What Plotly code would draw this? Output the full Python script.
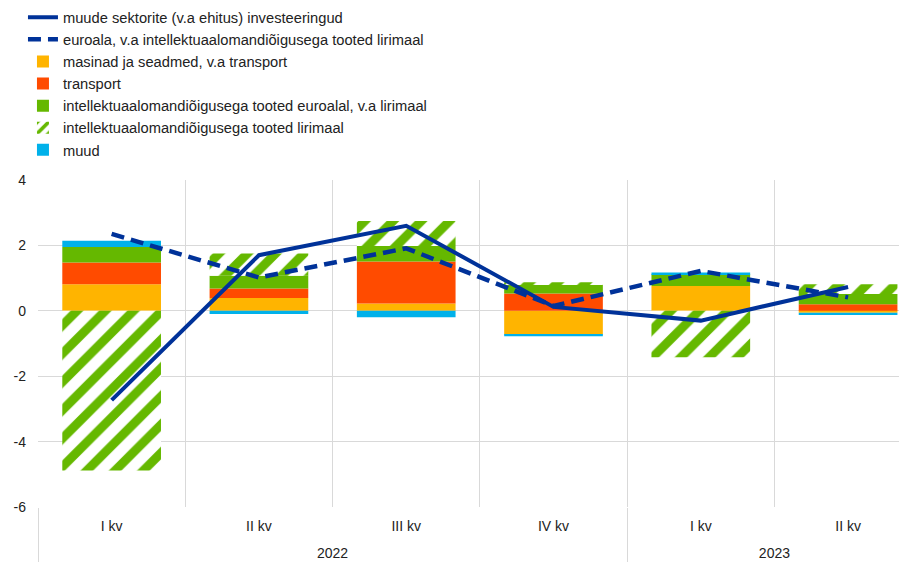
import plotly.graph_objects as go

years = ["2022", "2022", "2022", "2022", "2023", "2023"]
quarters = ["I kv", "II kv", "III kv", "IV kv", "I kv", "II kv"]

other_sectors = [-2.73, 1.70, 2.60, 0.12, -0.30, 0.73]
euro_area_ex_ie = [2.35, 1.02, 1.91, 0.15, 1.22, 0.41]
machinery = [0.81, 0.39, 0.22, -0.73, 0.76, -0.06]
transport = [0.67, 0.29, 1.29, 0.53, 0.0, 0.20]
ipp_euro_ex_ie = [0.47, 0.39, 0.47, 0.28, 0.36, 0.31]
ipp_ireland = [-4.88, 0.68, 0.77, 0.06, -1.42, 0.30]
other = [0.19, -0.10, -0.20, -0.05, 0.05, -0.07]

y_ticks = [-6, -4, -2, 0, 2, 4]
y_tick_labels = ["-6", "-4", "-2", "0", "2", "4"]

names = [
    "muude sektorite (v.a ehitus) investeeringud",
    "euroala, v.a intellektuaalomandiõigusega tooted lirimaal",
    "masinad ja seadmed, v.a transport",
    "transport",
    "intellektuaalomandiõigusega tooted euroalal, v.a lirimaal",
    "intellektuaalomandiõigusega tooted lirimaal",
    "muud",
]

BLUE = "#003299"
ORANGE = "#FFB400"
RED = "#FF4B00"
GREEN = "#65B800"
CYAN = "#00B1EA"

# year labels sit one line lower than the quarter labels
x = [["<br>" + y for y in years], quarters]

fig = go.Figure()
fig.add_trace(go.Scatter(x=x, y=other_sectors, name=names[0], mode="lines",
                         line=dict(color=BLUE, width=4)))
fig.add_trace(go.Scatter(x=x, y=euro_area_ex_ie, name=names[1], mode="lines",
                         line=dict(color=BLUE, width=4.5, dash="13px,7px")))
fig.add_trace(go.Bar(x=x, y=machinery, name=names[2], marker=dict(color=ORANGE, line_width=0)))
fig.add_trace(go.Bar(x=x, y=transport, name=names[3], marker=dict(color=RED, line_width=0)))
fig.add_trace(go.Bar(x=x, y=ipp_euro_ex_ie, name=names[4], marker=dict(color=GREEN, line_width=0)))
fig.add_trace(go.Bar(x=x, y=ipp_ireland, name=names[5],
                     marker=dict(color="white", line_width=0,
                                 pattern=dict(shape="/", fgcolor=GREEN, bgcolor="white",
                                              fgopacity=1, size=20, solidity=0.45))))
fig.add_trace(go.Bar(x=x, y=other, name=names[6], marker=dict(color=CYAN, line_width=0)))

fig.update_layout(
    width=907, height=562,
    margin=dict(l=30, r=8, t=172, b=63, autoexpand=False),
    plot_bgcolor="white", paper_bgcolor="white",
    barmode="relative", bargap=0.33,
    font=dict(family="Liberation Sans, Arial, sans-serif", size=14, color="#222222"),
    showlegend=True,
    legend=dict(x=-0.0173, y=1.547, xanchor="left", yanchor="top",
                orientation="v", traceorder="normal", tracegroupgap=0,
                font=dict(size=14.7), bgcolor="rgba(0,0,0,0)", itemwidth=30),
    xaxis=dict(type="multicategory", range=[-0.5, 5.4], tickson="boundaries",
               showgrid=True, gridcolor="#D9D9D9", gridwidth=1,
               showdividers=True, dividercolor="#D9D9D9", dividerwidth=1,
               ticks="", showline=False, tickfont=dict(size=14), ticklabelstandoff=9),
    yaxis=dict(range=[-6, 4], tickvals=y_ticks, ticktext=y_tick_labels,
               showgrid=True, gridcolor="#D9D9D9", gridwidth=1,
               zeroline=True, zerolinecolor="#D9D9D9", zerolinewidth=1,
               showline=False, ticks="", tickfont=dict(size=14), ticklabelstandoff=11),
)

fig.write_html("out.html")
